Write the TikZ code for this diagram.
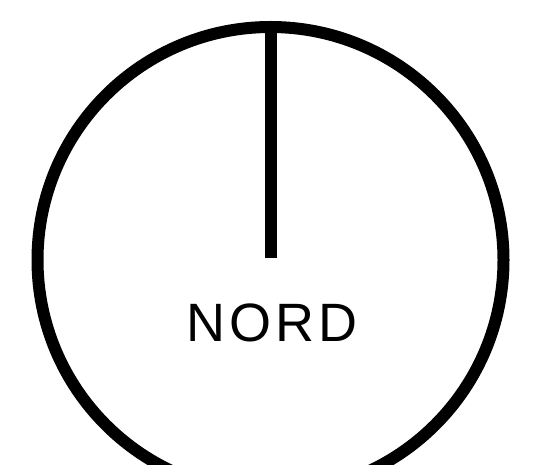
\documentclass[tikz,border=0pt]{standalone}
\usepackage{fontspec}
\setmainfont{Liberation Sans}
\usepackage{tikz}
\usetikzlibrary{positioning}

\begin{document}
\begin{tikzpicture}[
  x=1pt, y=1pt,
  dial/.style={circle, draw=black, line width=12pt, minimum size=466pt, inner sep=0pt},
  needle/.style={line width=12pt, line cap=butt},
  label/.style={font=\fontsize{54}{54}\selectfont\addfontfeature{LetterSpace=8}, inner sep=0pt}
]
\useasboundingbox (0,0) rectangle (533,464);
\clip (0,0) rectangle (533,464);

\node[dial] (compass) at (270.5,204) {};
\coordinate (tip) at (270.5,206);
\node[label] (nord) at (272,141.5) {NORD};

\draw[needle] (compass.north) -- (tip);

\end{tikzpicture}
\end{document}
